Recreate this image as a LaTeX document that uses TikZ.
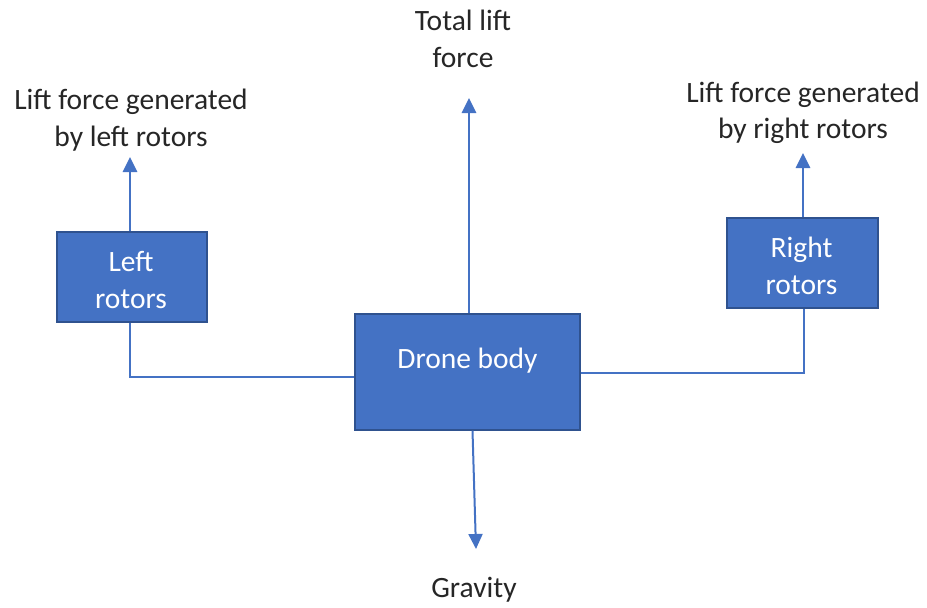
\documentclass[tikz,border=0pt]{standalone}
\usepackage{fontspec}
\setmainfont{Carlito}
\usetikzlibrary{arrows.meta}
\definecolor{boxblue}{HTML}{4472C4}
\definecolor{boxedge}{HTML}{2F528F}
\definecolor{txt}{HTML}{262626}
\begin{document}
\begin{tikzpicture}[x=1pt,y=-1pt,
  box/.style={draw=boxedge, line width=1.2pt, fill=boxblue, inner sep=0pt},
  boxtext/.style={text=white, font=\fontsize{29.5}{37.5}\selectfont, align=center, inner sep=0pt},
  lbl/.style={text=txt, font=\fontsize{29.5}{36.5}\selectfont, align=center, inner sep=0pt},
  force/.style={draw=boxblue, line width=2.8pt, -{Triangle[width=14pt,length=15pt]}},
  link/.style={draw=boxblue, line width=2.4pt}]
\useasboundingbox (0,0) rectangle (927,608);
% boxes
\node[box, minimum width=150pt, minimum height=90pt] (lr) at (132,277) {};
\node[boxtext] (lrt) at (131,280) {Left\\rotors};
\node[box, minimum width=151pt, minimum height=90pt] (rr) at (802.5,263) {};
\node[boxtext] (rrt) at (801.5,266) {Right\\rotors};
\node[box, minimum width=225pt, minimum height=116pt] (db) at (467.5,372) {};
\node[boxtext] (dbt) at (467.5,361) {Drone body};
% labels
\node[lbl] (ll) at (131,120) {Lift force generated\\by left rotors};
\node[lbl] (tl) at (463,39) {Total lift\\force};
\node[lbl] (rl) at (803,113) {Lift force generated\\by right rotors};
\node[lbl] (gl) at (474,590) {Gravity};
% arrow tips
\coordinate (llt) at (130,157);
\coordinate (tlt) at (469,98);
\coordinate (rlt) at (803,153);
\coordinate (glt) at (476,549);
% forces
\draw[force] (lr.north -| llt) -- (llt);
\draw[force] (db.north -| tlt) -- (tlt);
\draw[force] (rr.north -| rlt) -- (rlt);
\draw[force, line width=2pt] ([xshift=5pt]db.south) -- (glt);
% links
\draw[link] ([xshift=-2pt]lr.south) |- ([yshift=-5pt]db.west);
\draw[link] ([yshift=-1pt]db.east) -| ([xshift=1.5pt]rr.south);
\end{tikzpicture}
\end{document}
